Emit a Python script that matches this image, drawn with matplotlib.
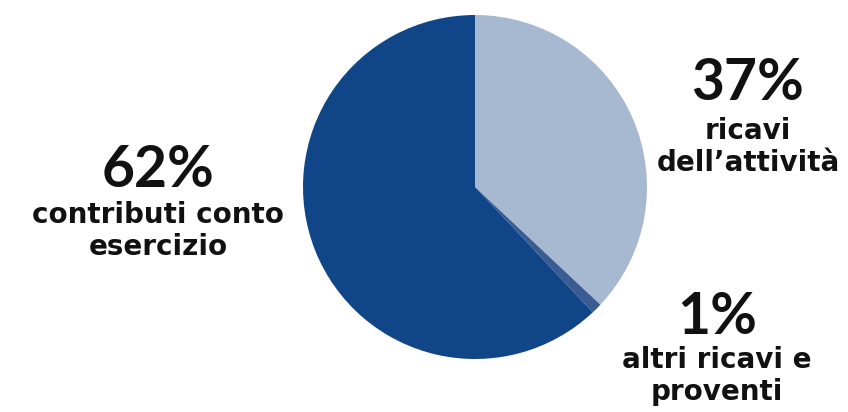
import matplotlib
matplotlib.use("Agg")
import matplotlib.pyplot as plt

labels = ["ricavi\ndell\u2019attivit\u00e0", "altri ricavi e\nproventi", "contributi conto\nesercizio"]
values = [37, 1, 62]
colors = ["#a7b8d1", "#3a5c93", "#104587"]

W, H = 848, 412
fig = plt.figure(figsize=(W / 100, H / 100), dpi=100)

cx, cy, r = 475, 187, 172
ax = fig.add_axes([(cx - r) / W, (H - cy - r) / H, 2 * r / W, 2 * r / H])
ax.pie(values, colors=colors, startangle=90, counterclock=False,
       wedgeprops=dict(linewidth=0))
ax.set_xlim(-1, 1)
ax.set_ylim(-1, 1)
ax.set_aspect("equal")
ax.axis("off")

pct_font = dict(family="Lato", weight="bold", color="#111111", ha="center", va="center")
lab_font = dict(family="DejaVu Sans", weight="bold", color="#111111", ha="center", va="center",
                linespacing=1.2)

# (x, y of percentage, y of label) in pixels
spots = [(748, 84, 147), (717, 318, 376), (158, 170, 231)]
for (x, yp, yl), v, lab in zip(spots, values, labels):
    fig.text(x / W, 1 - yp / H, f"{v}%", fontsize=41, **pct_font)
    fig.text(x / W, 1 - yl / H, lab, fontsize=20, **lab_font)

fig.savefig("out.png", dpi=100)
